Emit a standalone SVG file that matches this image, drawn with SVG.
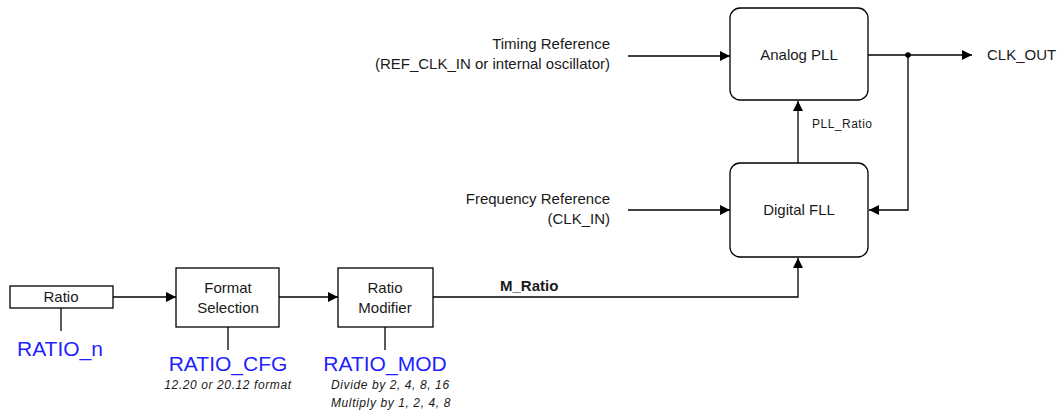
<svg xmlns="http://www.w3.org/2000/svg" width="1063" height="413" viewBox="0 0 1063 413">
<style>
.box{fill:#fff;stroke:#000;stroke-width:1.3}
.t{font-family:"Liberation Sans",Arial,sans-serif;font-size:15px;fill:#1a1a1a}
.c{text-anchor:middle}
.r{text-anchor:end}
.b{font-family:"Liberation Sans",Arial,sans-serif;font-size:21px;fill:#1f1fff}
.i{font-family:"Liberation Sans",Arial,sans-serif;font-size:12px;font-style:italic;fill:#1a1a1a;letter-spacing:0.6px}
.s{font-family:"Liberation Sans",Arial,sans-serif;font-size:12px;fill:#1a1a1a;letter-spacing:0.5px}
.ln{fill:none;stroke:#000;stroke-width:1.3}
</style>
<defs>
<marker id="ah" viewBox="0 0 10 10" refX="10" refY="5" markerWidth="10" markerHeight="10" markerUnits="userSpaceOnUse" orient="auto">
<path d="M0,0 L10,5 L0,10 Z" fill="#000"/>
</marker>
</defs>
<rect width="1063" height="413" fill="#fff"/>
<g id="connectors">
<line class="ln" x1="628" y1="56" x2="730" y2="56" marker-end="url(#ah)"/>
<line class="ln" x1="628" y1="210" x2="730" y2="210" marker-end="url(#ah)"/>
<line class="ln" x1="798" y1="163" x2="798" y2="101" marker-end="url(#ah)"/>
<line class="ln" x1="868" y1="55" x2="972" y2="55" marker-end="url(#ah)"/>
<circle cx="908" cy="55" r="2.8" fill="#000"/>
<polyline class="ln" points="908,55 908,210 869,210" marker-end="url(#ah)"/>
<line class="ln" x1="113" y1="297" x2="176" y2="297" marker-end="url(#ah)"/>
<line class="ln" x1="279" y1="297" x2="338" y2="297" marker-end="url(#ah)"/>
<polyline class="ln" points="433,297 798,297 798,258" marker-end="url(#ah)"/>
<line class="ln" x1="61" y1="308" x2="61" y2="331"/>
<line class="ln" x1="228" y1="327" x2="228" y2="350"/>
<line class="ln" x1="385" y1="327" x2="385" y2="350"/>
<text class="s" x="812" y="128">PLL_Ratio</text>
<text class="t" x="500" y="291" style="font-weight:bold">M_Ratio</text>
<text class="t" x="987" y="60">CLK_OUT</text>
</g>
<g id="timing-ref">
<text class="t r" x="610" y="49">Timing Reference</text>
<text class="t r" x="610" y="69">(REF_CLK_IN or internal oscillator)</text>
</g>
<g id="freq-ref">
<text class="t r" x="610" y="204">Frequency Reference</text>
<text class="t r" x="610" y="224">(CLK_IN)</text>
</g>
<g id="analog-pll">
<rect class="box" x="730" y="8" width="138" height="92" rx="10"/>
<text class="t c" x="799" y="60">Analog PLL</text>
</g>
<g id="digital-fll">
<rect class="box" x="730" y="163" width="138" height="94" rx="10"/>
<text class="t c" x="799" y="215">Digital FLL</text>
</g>
<g id="ratio">
<rect class="box" x="10" y="286" width="103" height="22"/>
<text class="t c" x="61" y="302">Ratio</text>
<text class="b" x="17" y="356">RATIO_n</text>
</g>
<g id="format-selection">
<rect class="box" x="176" y="268" width="103" height="59"/>
<text class="t c" x="228" y="293">Format</text>
<text class="t c" x="228" y="313">Selection</text>
<text class="b c" x="228" y="371">RATIO_CFG</text>
<text class="i c" x="228" y="389">12.20 or 20.12 format</text>
</g>
<g id="ratio-modifier">
<rect class="box" x="338" y="268" width="95" height="59"/>
<text class="t c" x="385" y="293">Ratio</text>
<text class="t c" x="385" y="313">Modifier</text>
<text class="b c" x="385" y="371">RATIO_MOD</text>
<text class="i" x="331" y="389">Divide by 2, 4, 8, 16</text>
<text class="i" x="331" y="407">Multiply by 1, 2, 4, 8</text>
</g>
</svg>
